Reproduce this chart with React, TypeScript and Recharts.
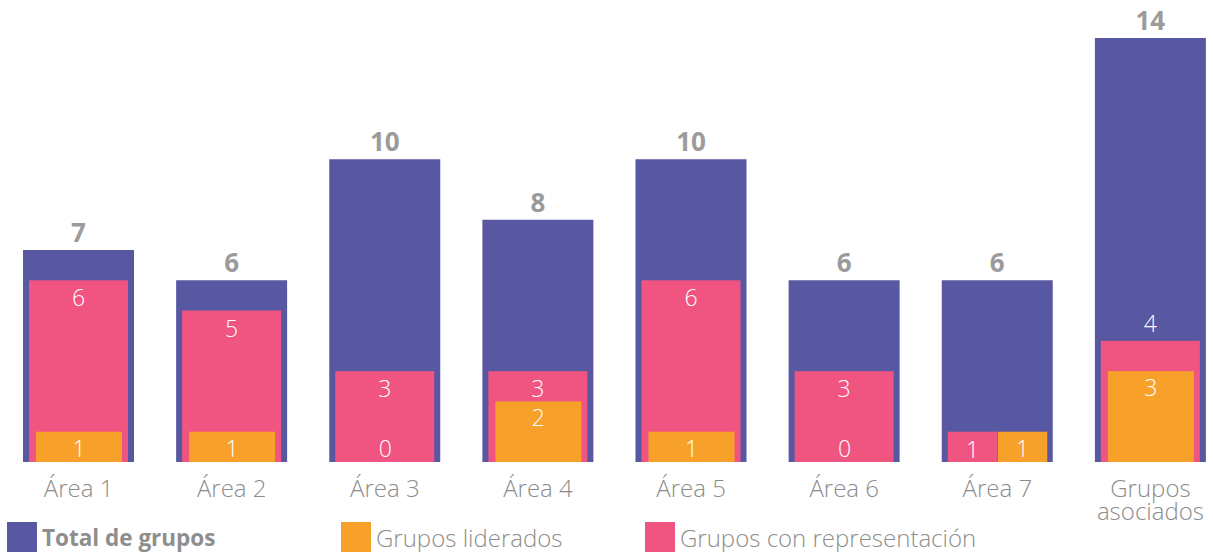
import React from "react";
import { BarChart, Bar, XAxis, YAxis, LabelList, Legend } from "recharts";

const categories = ["Área 1", "Área 2", "Área 3", "Área 4", "Área 5", "Área 6", "Área 7", "Grupos asociados"];
const totalGrupos = [7, 6, 10, 8, 10, 6, 6, 14];
const gruposRepresentacion = [6, 5, 3, 3, 6, 3, 1, 4];
const gruposLiderados = [1, 1, 0, 2, 1, 0, 1, 3];

// category where pink and orange bars sit side by side
const SPLIT_CATEGORY = "Área 7";
// category where the pink label goes above its bar
const LABEL_ABOVE_CATEGORY = "Grupos asociados";

const PURPLE = "#5857a1";
const PINK = "#f05480";
const ORANGE = "#f7a12b";
const FONT = "'Open Sans', Lato, sans-serif";

const TOTAL_W = 111;
const REP_W = 99;
const LID_W = 86;

const data = categories.map((name, i) => ({
  name,
  total: totalGrupos[i],
  rep: gruposRepresentacion[i],
  lid: gruposLiderados[i],
}));

const legendItems = [
  { label: "Total de grupos", color: PURPLE, bold: true, width: 334 },
  { label: "Grupos liderados", color: ORANGE, bold: false, width: 304 },
  { label: "Grupos con representación", color: PINK, bold: false, width: 0 },
];

const RepShape = (props: any) => {
  const { x, y, width, height, fill, payload } = props;
  if (!height) return null;
  const w = payload && payload.name === SPLIT_CATEGORY ? width / 2 : width;
  return <rect x={x} y={y} width={w} height={height} fill={fill} />;
};

const LidShape = (props: any) => {
  const { x, y, width, height, fill, payload } = props;
  if (!height) return null;
  if (payload && payload.name === SPLIT_CATEGORY) {
    const cx = x + width / 2;
    return <rect x={cx} y={y} width={REP_W / 2} height={height} fill={fill} />;
  }
  return <rect x={x} y={y} width={width} height={height} fill={fill} />;
};

const TotalLabel = (props: any) => {
  const { x, y, width, value } = props;
  return (
    <text
      x={x + width / 2}
      y={y - 18}
      textAnchor="middle"
      dominantBaseline="central"
      fill="#9b9b9b"
      fontFamily={FONT}
      fontWeight={700}
      fontSize={26}
    >
      {value}
    </text>
  );
};

const RepLabel = (props: any) => {
  const { x, y, width, value, index } = props;
  const name = categories[index];
  let cx = x + width / 2;
  if (name === SPLIT_CATEGORY) cx = x + width / 4;
  const cy = name === LABEL_ABOVE_CATEGORY ? y - 18 : y + 17;
  return (
    <text x={cx} y={cy} textAnchor="middle" dominantBaseline="central" fill="#ffffff" fontFamily={FONT} fontWeight={300} fontSize={23}>
      {value}
    </text>
  );
};

const LidLabel = (props: any) => {
  const { x, y, width, height, value, index } = props;
  const name = categories[index];
  let cx = x + width / 2;
  if (name === SPLIT_CATEGORY) cx = x + width / 2 + REP_W / 4;
  const base = y + height;
  const cy = Math.min(y + 16, base - 14);
  return (
    <text x={cx} y={cy} textAnchor="middle" dominantBaseline="central" fill="#ffffff" fontFamily={FONT} fontWeight={300} fontSize={23}>
      {value}
    </text>
  );
};

const CategoryTick = (props: any) => {
  const { x, y, payload } = props;
  const label: string = payload.value;
  const lines = label.length > 10 ? label.split(" ") : [label];
  return (
    <text x={x} y={y + 17} textAnchor="middle" dominantBaseline="central" fill="#8c8c8c" fontFamily={FONT} fontWeight={300} fontSize={24}>
      {lines.map((line, i) => (
        <tspan key={line} x={x} dy={i === 0 ? 0 : 23}>
          {line}
        </tspan>
      ))}
    </text>
  );
};

const LegendContent = () => (
  <div style={{ display: "flex", height: 30, paddingLeft: 7, fontFamily: FONT, fontSize: 24, color: "#8e8e8e" }}>
    {legendItems.map((item) => (
      <div
        key={item.label}
        style={{
          display: "flex",
          alignItems: "center",
          width: item.width || undefined,
          fontWeight: item.bold ? 700 : 300,
          fontSize: item.bold ? 22.5 : 24,
          whiteSpace: "nowrap",
        }}
      >
        <span style={{ display: "inline-block", width: 30, height: 30, background: item.color, marginRight: 5, flexShrink: 0 }} />
        <span>{item.label}</span>
      </div>
    ))}
  </div>
);

export default function App() {
  return (
    <div style={{ position: "absolute", left: 0, top: 0, width: 1213, height: 552, overflow: "hidden", background: "#fff" }}>
      <BarChart width={1227} height={552} data={data} margin={{ top: 38, right: 0, left: 2, bottom: 10 }}>
        <XAxis xAxisId="total" dataKey="name" axisLine={false} tickLine={false} height={50} interval={0} tick={<CategoryTick />} />
        <XAxis xAxisId="rep" dataKey="name" hide height={0} />
        <XAxis xAxisId="lid" dataKey="name" hide height={0} />
        <YAxis hide domain={[0, 14]} />
        <Legend verticalAlign="bottom" content={<LegendContent />} wrapperStyle={{ left: 0, bottom: 0 }} />
        <Bar xAxisId="total" dataKey="total" name="Total de grupos" fill={PURPLE} barSize={TOTAL_W} isAnimationActive={false}>
          <LabelList dataKey="total" content={<TotalLabel />} />
        </Bar>
        <Bar xAxisId="rep" dataKey="rep" name="Grupos con representación" fill={PINK} barSize={REP_W} shape={<RepShape />} isAnimationActive={false}>
          <LabelList dataKey="rep" content={<RepLabel />} />
        </Bar>
        <Bar xAxisId="lid" dataKey="lid" name="Grupos liderados" fill={ORANGE} barSize={LID_W} shape={<LidShape />} isAnimationActive={false}>
          <LabelList dataKey="lid" content={<LidLabel />} />
        </Bar>
      </BarChart>
    </div>
  );
}
